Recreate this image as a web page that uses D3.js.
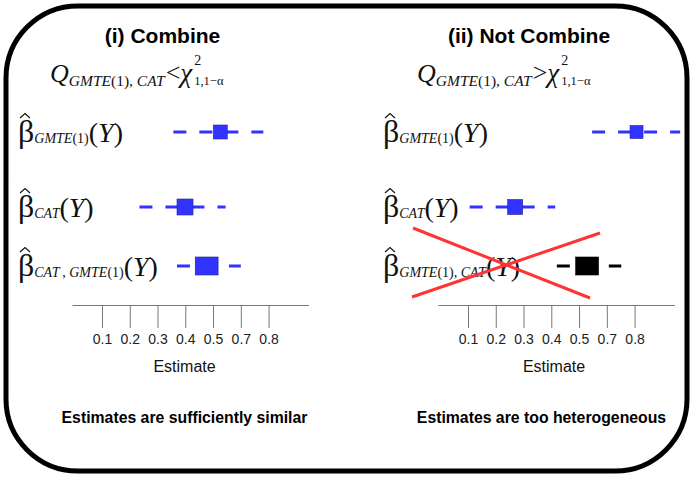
<!DOCTYPE html>
<html lang="en">
<head>
    <meta charset="UTF-8">
    <title>Combine vs Not Combine</title>
    <script src="https://cdn.jsdelivr.net/npm/d3@7/dist/d3.min.js"></script>
    <style>
        body { margin: 0; background: #fff; }
        .ttl { font-family: "Liberation Sans", Arial, sans-serif; font-weight: bold; }
        .math { font-family: "Liberation Serif", "Times New Roman", serif; fill: #111; }
        .tick line, .domain { stroke: #777; }
    </style>
</head>
<body>
<svg id="main-svg" width="695" height="478" xmlns="http://www.w3.org/2000/svg"></svg>

<script>
    'use strict';
    // data
    const panelTitles = ['(i) Combine', '(ii) Not Combine'];
    const captions = ['Estimates are sufficiently similar', 'Estimates are too heterogeneous'];
    const tickPos = [0.1, 0.2, 0.3, 0.4, 0.5, 0.6, 0.7];
    const tickLabels = ['0.1', '0.2', '0.3', '0.4', '0.5', '0.7', '0.8'];
    const rows = ['first', 'second', 'pooled'];

    const combineEst = [0.526, 0.399, 0.477];
    const combineLo = [0.357, 0.235, 0.370];
    const combineHi = [0.681, 0.545, 0.600];
    const combineWt = [14, 16, 18];

    const splitEst = [0.707, 0.270, 0.529];
    const splitLo = [0.547, 0.106, 0.420];
    const splitHi = [0.864, 0.414, 0.652];
    const splitWt = [13, 15, 18];

    const svg = d3.select('#main-svg');

    // rounded frame
    svg.append('rect')
        .attr('x', 6).attr('y', 6).attr('width', 681).attr('height', 465)
        .attr('rx', 72).attr('ry', 72)
        .attr('fill', 'none').attr('stroke', '#000').attr('stroke-width', 5);

    const y = d3.scaleOrdinal().domain(rows).range([132, 207, 266]);

    // text built from pieces, each piece may be italic / smaller / shifted
    function mathText(g, x, base, parts) {
        const t = g.append('text').attr('class', 'math').attr('x', x).attr('y', base);
        parts.forEach(p => {
            const s = t.append('tspan')
                .attr('y', base + (p.dy || 0))
                .attr('font-size', p.s)
                .attr('font-style', p.i ? 'italic' : 'normal')
                .text(p.t);
            if (p.x !== undefined) s.attr('x', p.x);
            if (p.dx !== undefined) s.attr('dx', p.dx);
        });
        return t;
    }

    function betaLabel(g, x, base, sub) {
        const parts = [{t: 'β', s: 32}].concat(sub.map(p => Object.assign({s: 14, dy: 1}, p)))
            .concat([{t: '(', s: 28}, {t: 'Y', s: 28, i: 1}, {t: ')', s: 28}]);
        mathText(g, x, base, parts);
        // hat
        g.append('path')
            .attr('d', `M${x + 2},${base - 24}L${x + 7},${base - 28.5}L${x + 12},${base - 24}`)
            .attr('fill', 'none').attr('stroke', '#111').attr('stroke-width', 1.1);
    }

    function formula(g, x, base, rel) {
        const t = mathText(g, x, base, [
            {t: 'Q', s: 26, i: 1},
            {t: 'GMTE', s: 15.5, i: 1, dy: 4},
            {t: '(1)', s: 15.5, dy: 4},
            {t: ', ', s: 15.5, dy: 4},
            {t: 'CAT', s: 15.5, i: 1, dy: 4},
            {t: rel, s: 26, dy: -1, dx: 1},
            {t: 'χ', s: 27, i: 1}
        ]);
        const end = x + t.node().getComputedTextLength() + 3;
        // superscript and subscript stacked after χ
        mathText(g, end, base, [
            {t: '2', s: 14, dy: -17},
            {t: '1,1−α', s: 12.5, dy: 3, x: end}
        ]);
    }

    const subs = {
        GMTE: [{t: 'GMTE', i: 1}, {t: '(1)'}],
        CAT: [{t: 'CAT', i: 1}],
        CATGMTE: [{t: 'CAT', i: 1}, {t: '\u2009, '}, {t: 'GMTE', i: 1}, {t: '(1)'}],
        GMTECAT: [{t: 'GMTE', i: 1}, {t: '(1)'}, {t: ', '}, {t: 'CAT', i: 1}]
    };

    const panels = [
        {off: 0, title: 162.5, labelX: 18, qX: 50, rel: '<', est: combineEst, lo: combineLo, hi: combineHi, wt: combineWt,
            labels: [subs.GMTE, subs.CAT, subs.CATGMTE], colors: ['#3333ff', '#3333ff', '#3333ff'], estX: 184.5, capX: 184.5},
        {off: 366, title: 529, labelX: 383, qX: 417, rel: '>', est: splitEst, lo: splitLo, hi: splitHi, wt: splitWt,
            labels: [subs.GMTE, subs.CAT, subs.GMTECAT], colors: ['#3333ff', '#3333ff', '#000'], estX: 554, capX: 541.5}
    ];

    panels.forEach((p, pi) => {
        const g = svg.append('g');
        const x = d3.scaleLinear().domain([-0.008, 0.843]).range([72 + p.off, 308.3 + p.off]);

        g.append('text').attr('class', 'ttl')
            .attr('x', p.title).attr('y', 43).attr('text-anchor', 'middle')
            .attr('font-size', 21).text(panelTitles[pi]);

        formula(g, p.qX, 82, p.rel);

        // axis with ticks pointing down
        const axis = d3.axisBottom(x)
            .tickValues(tickPos)
            .tickSize(23)
            .tickSizeOuter(0)
            .tickPadding(6)
            .tickFormat((d, i) => tickLabels[i]);
        const ax = g.append('g').attr('transform', 'translate(0,305)').call(axis);
        ax.attr('font-size', 14).attr('font-family', '"Liberation Sans", Arial, sans-serif');
        ax.selectAll('.tick text')
            .style('font-size', '14px')
            .style('font-family', '"Liberation Sans", Arial, sans-serif')
            .attr('fill', '#222');

        g.append('text')
            .attr('x', p.estX).attr('y', 372).attr('text-anchor', 'middle')
            .attr('font-family', '"Liberation Sans", Arial, sans-serif')
            .attr('font-size', 16).attr('fill', '#111').text('Estimate');

        g.append('text').attr('class', 'ttl')
            .attr('x', p.capX).attr('y', 423).attr('text-anchor', 'middle')
            .attr('font-size', 15.8).text(captions[pi]);

        const data = rows.map((r, i) => ({
            row: r, est: p.est[i], lo: p.lo[i], hi: p.hi[i], wt: p.wt[i], color: p.colors[i], sub: p.labels[i]
        }));

        data.forEach(d => betaLabel(g, p.labelX, y(d.row) + 10, d.sub));

        g.selectAll('line.ci').data(data).enter().append('line')
            .attr('class', 'ci')
            .attr('x1', d => x(d.lo)).attr('x2', d => x(d.hi))
            .attr('y1', d => y(d.row)).attr('y2', d => y(d.row))
            .attr('stroke', d => d.color).attr('stroke-width', 3)
            .attr('stroke-dasharray', '13,13');

        g.selectAll('rect.est').data(data).enter().append('rect')
            .attr('class', 'est')
            .attr('width', d => d.row === 'pooled' ? d.wt * 1.27 : d.wt)
            .attr('height', d => d.wt)
            .attr('x', d => x(d.est) - (d.row === 'pooled' ? d.wt * 1.27 : d.wt) / 2)
            .attr('y', d => y(d.row) - d.wt / 2)
            .attr('fill', d => d.color)
            .attr('stroke', d => d.color === '#000' ? '#000' : '#22229a')
            .attr('stroke-width', 0.6);

        // cross over the pooled estimate that is not allowed
        if (p.rel === '>') {
            const cy = y('pooled');
            const lx = p.labelX;
            g.append('line').attr('x1', lx + 30).attr('y1', cy - 38).attr('x2', lx + 207).attr('y2', cy + 32)
                .attr('stroke', '#ff3333').attr('stroke-width', 3);
            g.append('line').attr('x1', lx + 29).attr('y1', cy + 31).attr('x2', lx + 217).attr('y2', cy - 33)
                .attr('stroke', '#ff3333').attr('stroke-width', 3);
        }
    });
</script>
</body>
</html>
